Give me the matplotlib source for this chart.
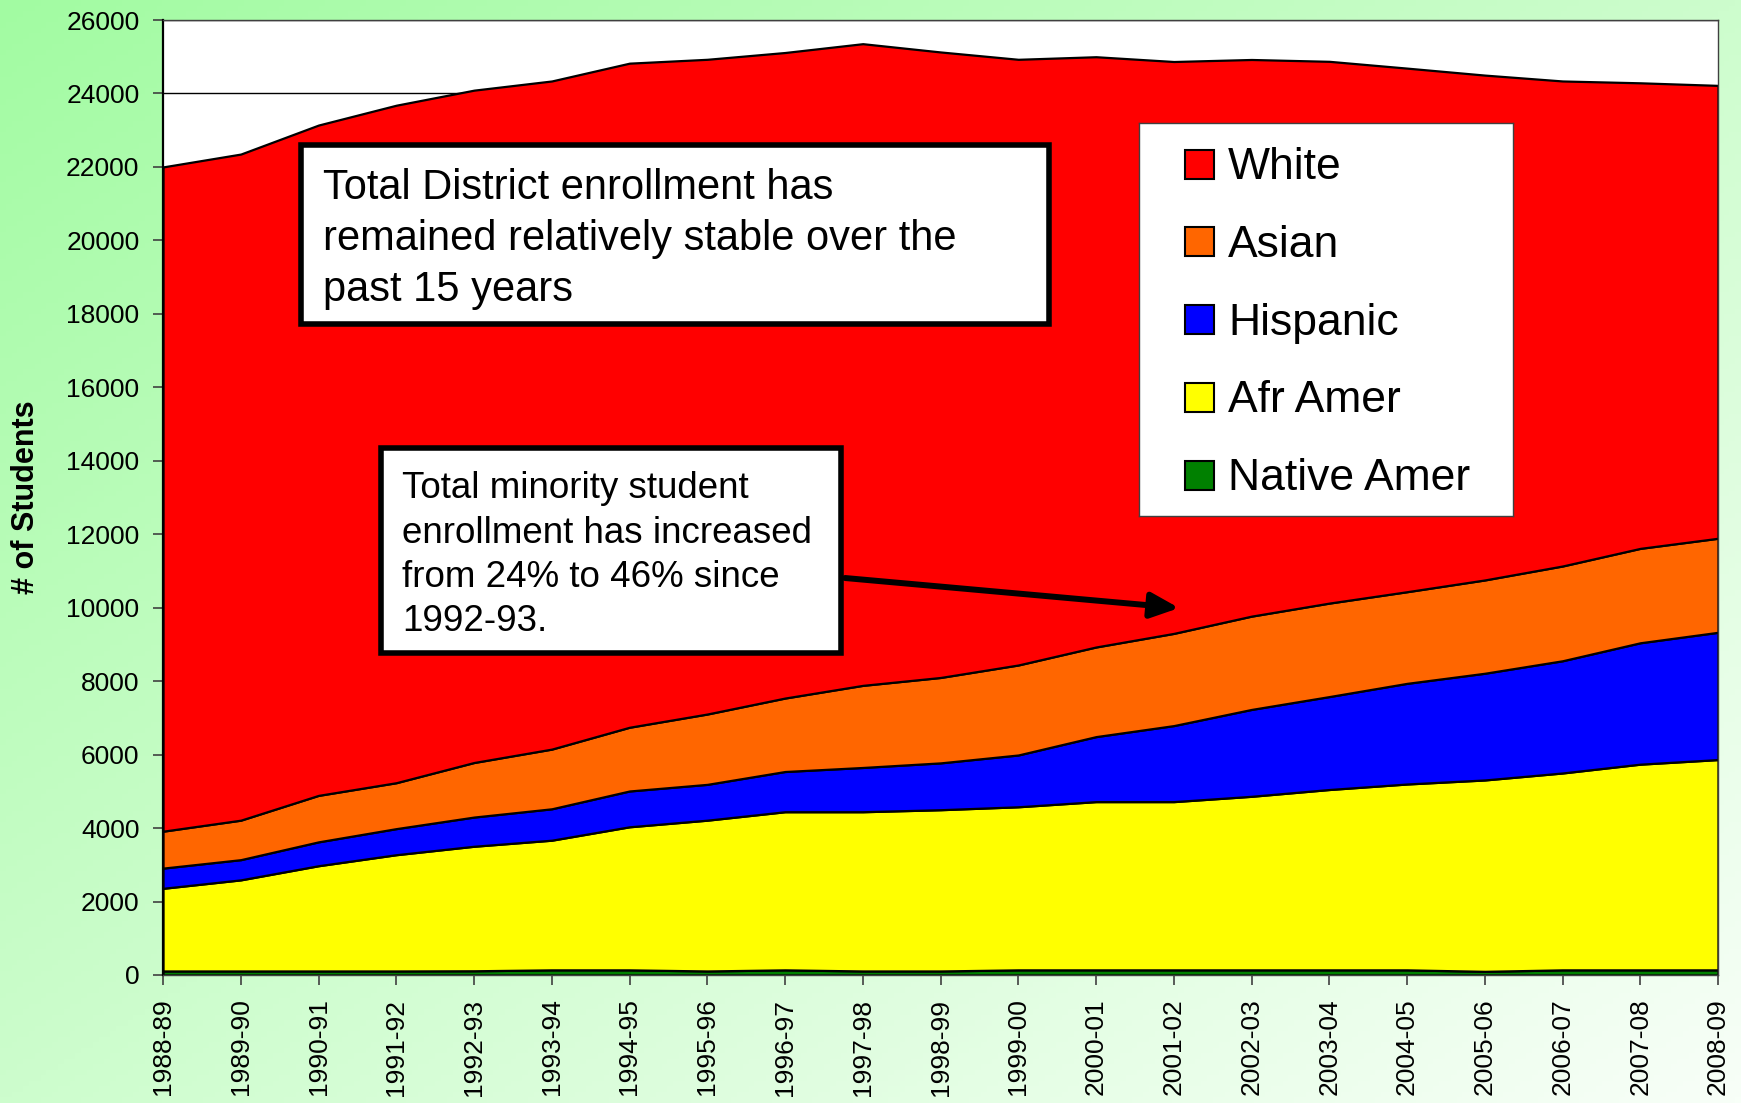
import numpy as np
import matplotlib.pyplot as plt
from matplotlib.patches import Rectangle
from matplotlib.colors import to_rgb

plt.rcParams['font.family'] = ['Liberation Sans', 'DejaVu Sans']

# school years on the x axis
years = ['1988-89', '1989-90', '1990-91', '1991-92', '1992-93', '1993-94', '1994-95',
         '1995-96', '1996-97', '1997-98', '1998-99', '1999-00', '2000-01', '2001-02',
         '2002-03', '2003-04', '2004-05', '2005-06', '2006-07', '2007-08', '2008-09']

# enrollment by group
native_amer = [110, 110, 110, 110, 115, 140, 140, 110, 140, 110, 110,
               140, 140, 140, 140, 140, 140, 100, 140, 140, 140]
afr_amer = [2250, 2480, 2865, 3165, 3390, 3530, 3895, 4105, 4305, 4335, 4390,
            4440, 4580, 4580, 4725, 4910, 5060, 5210, 5360, 5600, 5725]
hispanic = [550, 550, 650, 710, 795, 855, 975, 975, 1095, 1205, 1275,
            1410, 1770, 2070, 2365, 2530, 2740, 2905, 3055, 3305, 3465]
asian = [1005, 1075, 1265, 1250, 1485, 1625, 1735, 1915, 2000, 2235, 2325,
         2450, 2440, 2510, 2540, 2545, 2495, 2540, 2580, 2570, 2560]
white = [18085, 18135, 18250, 18445, 18305, 18190, 18080, 17825, 17575, 17470, 17030,
         16490, 16070, 15570, 15155, 14750, 14255, 13745, 13205, 12675, 12330]

groups = ['Native Amer', 'Afr Amer', 'Hispanic', 'Asian', 'White']
colors = ['#008000', '#ffff00', '#0000ff', '#ff6600', '#ff0000']

note_total = ['Total District enrollment has',
              'remained relatively stable over the',
              'past 15 years']
note_minority = ['Total minority student',
                 'enrollment has increased',
                 'from 24% to 46% since',
                 '1992-93.']

fig = plt.figure(figsize=(17.41, 11.03), dpi=100)

# diagonal green-to-white background
bg = fig.add_axes([0, 0, 1, 1], zorder=-1)
gx, gy = np.meshgrid(np.linspace(0, 1, 300), np.linspace(0, 1, 200))
t = (gx + gy) / 2
c0 = np.array(to_rgb('#a2fba2'))
c1 = np.array(to_rgb('#f8fff8'))
grad = c0[None, None, :] * (1 - t[..., None]) + c1[None, None, :] * t[..., None]
bg.imshow(grad, aspect='auto', extent=[0, 1, 0, 1])
bg.axis('off')

ax = fig.add_axes([163 / 1741, 1 - 975 / 1103, 1555 / 1741, 955 / 1103])
ax.set_facecolor('white')
x = np.arange(len(years))
ax.stackplot(x, native_amer, afr_amer, hispanic, asian, white,
             colors=colors, edgecolor='black', linewidth=1.6)

ax.set_xlim(0, len(years) - 1)
ax.set_ylim(0, 26000)
ax.set_yticks(np.arange(0, 26001, 2000))
ax.set_xticks(x)
ax.set_xticklabels(years, rotation=90, fontsize=19)
ax.tick_params(axis='y', labelsize=19)
ax.tick_params(direction='out', length=7, width=1.2, color='#404040', pad=10)
ax.set_axisbelow(True)
ax.grid(True, axis='y', color='black', linewidth=1)
for side in ['top', 'right', 'bottom']:
    ax.spines[side].set_color('#404040')
    ax.spines[side].set_linewidth(1)
ax.spines['left'].set_color('black')
ax.spines['left'].set_linewidth(1.6)

ax.text((26 - 163) / 1555, 0.5, '# of Students', transform=ax.transAxes,
        rotation=90, ha='center', va='center', fontsize=22, fontweight='bold')

# note boxes
ax.add_patch(Rectangle((0.0885, 0.6820), 0.4810, 0.1875, transform=ax.transAxes,
                       facecolor='white', edgecolor='black', linewidth=4, zorder=5))
for i, line in enumerate(note_total):
    ax.text(0.1029, 0.8126 - i * 0.0535, line, transform=ax.transAxes,
            fontsize=30, va='baseline', ha='left', zorder=6)

ax.add_patch(Rectangle((0.1405, 0.3375), 0.2955, 0.2140, transform=ax.transAxes,
                       facecolor='white', edgecolor='black', linewidth=4, zorder=5))
for i, line in enumerate(note_minority):
    ax.text(0.1537, 0.4990 - i * 0.0464, line, transform=ax.transAxes,
            fontsize=26.5, va='baseline', ha='left', zorder=6)

ax.annotate('', xy=(0.6534, 0.3843), xytext=(0.4386, 0.4157),
            xycoords='axes fraction', textcoords='axes fraction',
            arrowprops=dict(arrowstyle='-|>,head_length=1.0,head_width=0.45',
                            mutation_scale=17, lw=4.3, color='black',
                            shrinkA=0, shrinkB=0), zorder=6)

# legend box
lax = fig.add_axes([1139 / 1741, 1 - 516 / 1103, 374 / 1741, 393 / 1103], zorder=3)
lax.set_xlim(0, 374)
lax.set_ylim(393, 0)
lax.set_xticks([])
lax.set_yticks([])
lax.set_facecolor('white')
for sp in lax.spines.values():
    sp.set_color('#404040')
    sp.set_linewidth(1)
for i, (name, col) in enumerate(zip(groups[::-1], colors[::-1])):
    cy = 41 + i * 77.8
    lax.add_patch(Rectangle((46, cy - 14.5), 29, 29, facecolor=col,
                            edgecolor='black', linewidth=1.5))
    lax.text(89, cy + 15, name, fontsize=32, va='baseline', ha='left')

fig.savefig('out.png', dpi=100)
